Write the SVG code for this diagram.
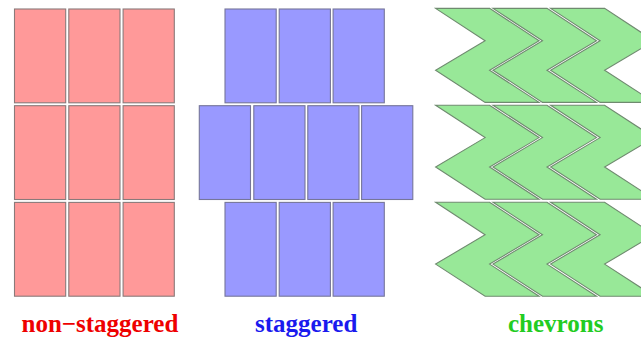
<svg xmlns="http://www.w3.org/2000/svg" xmlns:xlink="http://www.w3.org/1999/xlink" width="641" height="337" viewBox="0 0 641 337">
  <style>
    .pink { fill: #ff9999; stroke: #8a7a7a; stroke-width: 1.1; }
    .blue { fill: #9999ff; stroke: #76769a; stroke-width: 1.1; }
    .green { fill: #98e898; stroke: #6f8a6f; stroke-width: 1.1; }
    .label { font-family: "Liberation Serif", "Times New Roman", serif; font-weight: bold; font-size: 25px; }
  </style>
  <defs>
    <rect id="tile" width="51.2" height="93.8"/>
    <path id="chev" d="M0,0 H54 L103.5,32.4 L54,61.8 L103.5,94 H49.5 L0,61.8 L49.5,32.4 Z"/>
  </defs>
  <rect width="641" height="337" fill="#ffffff"/>

  <!-- aligned grid of bricks -->
  <g id="non-staggered" class="pink">
    <use xlink:href="#tile" x="14.5" y="9"/>
    <use xlink:href="#tile" x="68.8" y="9"/>
    <use xlink:href="#tile" x="123.1" y="9"/>
    <use xlink:href="#tile" x="14.5" y="105.7"/>
    <use xlink:href="#tile" x="68.8" y="105.7"/>
    <use xlink:href="#tile" x="123.1" y="105.7"/>
    <use xlink:href="#tile" x="14.5" y="202.4"/>
    <use xlink:href="#tile" x="68.8" y="202.4"/>
    <use xlink:href="#tile" x="123.1" y="202.4"/>
  </g>

  <!-- running bond: middle course offset by half a brick -->
  <g id="staggered" class="blue">
    <use xlink:href="#tile" x="225" y="9"/>
    <use xlink:href="#tile" x="279.2" y="9"/>
    <use xlink:href="#tile" x="333.1" y="9"/>
    <use xlink:href="#tile" x="199.3" y="105.7"/>
    <use xlink:href="#tile" x="253.8" y="105.7"/>
    <use xlink:href="#tile" x="307.8" y="105.7"/>
    <use xlink:href="#tile" x="361.6" y="105.7"/>
    <use xlink:href="#tile" x="225" y="202.4"/>
    <use xlink:href="#tile" x="279.2" y="202.4"/>
    <use xlink:href="#tile" x="333.1" y="202.4"/>
  </g>

  <!-- zig-zag tiles -->
  <g id="chevrons" class="green">
    <use xlink:href="#chev" x="435.6" y="8.4"/>
    <use xlink:href="#chev" x="493" y="8.4"/>
    <use xlink:href="#chev" x="550.6" y="8.4"/>
    <use xlink:href="#chev" x="435.6" y="105.2"/>
    <use xlink:href="#chev" x="493" y="105.2"/>
    <use xlink:href="#chev" x="550.6" y="105.2"/>
    <use xlink:href="#chev" x="435.6" y="202.3"/>
    <use xlink:href="#chev" x="493" y="202.3"/>
    <use xlink:href="#chev" x="550.6" y="202.3"/>
  </g>

  <g id="labels" class="label">
    <text x="21.5" y="332" fill="#ee0000">non−staggered</text>
    <text x="255" y="332" fill="#1a1aee">staggered</text>
    <text x="508" y="332" fill="#22cc22">chevrons</text>
  </g>
</svg>
